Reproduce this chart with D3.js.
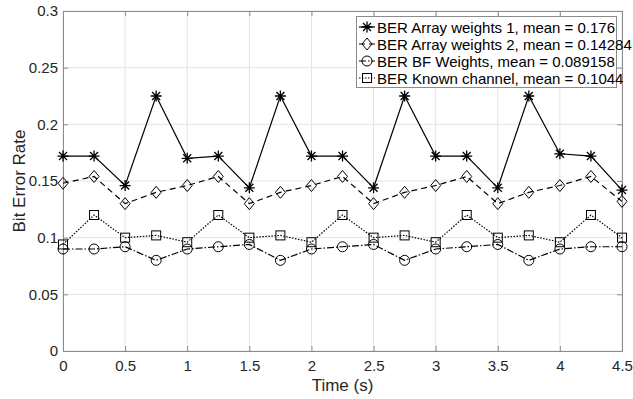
<!DOCTYPE html>
<html lang="en">
<head>
<meta charset="utf-8">
<script src="https://d3js.org/d3.v7.min.js"></script>
<style>
  body { margin: 0; background: #fff; }
  text { font-family: "Liberation Sans", Arial, sans-serif; }
</style>
</head>
<body>
<script>
// data
var times = [0, 0.25, 0.5, 0.75, 1, 1.25, 1.5, 1.75, 2, 2.25, 2.5, 2.75, 3, 3.25, 3.5, 3.75, 4, 4.25, 4.5];
var berArray1 = [0.172, 0.172, 0.146, 0.225, 0.170, 0.172, 0.144, 0.225, 0.172, 0.172, 0.144, 0.225, 0.172, 0.172, 0.144, 0.225, 0.174, 0.172, 0.142];
var berArray2 = [0.148, 0.154, 0.130, 0.140, 0.146, 0.154, 0.130, 0.140, 0.146, 0.154, 0.130, 0.140, 0.146, 0.154, 0.130, 0.140, 0.146, 0.154, 0.132];
var berBF = [0.090, 0.090, 0.092, 0.080, 0.090, 0.092, 0.094, 0.080, 0.090, 0.092, 0.094, 0.080, 0.090, 0.092, 0.094, 0.080, 0.090, 0.092, 0.092];
var berKnown = [0.094, 0.120, 0.100, 0.102, 0.096, 0.120, 0.100, 0.102, 0.096, 0.120, 0.100, 0.102, 0.096, 0.120, 0.100, 0.102, 0.096, 0.120, 0.100];
var legendLabels = ["BER Array weights 1, mean = 0.176", "BER Array weights 2, mean = 0.14284",
                    "BER BF Weights, mean = 0.089158", "BER Known channel, mean = 0.1044"];
var xTicks = [0, 0.5, 1, 1.5, 2, 2.5, 3, 3.5, 4, 4.5];
var yTicks = [0, 0.05, 0.1, 0.15, 0.2, 0.25, 0.3];

var W = 633, H = 399;
var margin = {left: 63, top: 11, right: 11, bottom: 48};

var series = [
  {values: berArray1, marker: "star", dash: null},
  {values: berArray2, marker: "diamond", dash: "6,4"},
  {values: berBF, marker: "circle", dash: "7,2,1.5,2"},
  {values: berKnown, marker: "square", dash: "1.5,1.5"}
];

var svg = d3.select("body").append("svg")
    .attr("width", W)
    .attr("height", H);

var x = d3.scaleLinear().domain([0, 4.5]).range([margin.left, W - margin.right]);
var y = d3.scaleLinear().domain([0, 0.3]).range([H - margin.bottom, margin.top]);

// grid
svg.append("g").selectAll("line").data(xTicks).enter().append("line")
    .attr("x1", function(d) { return x(d); }).attr("x2", function(d) { return x(d); })
    .attr("y1", y(0)).attr("y2", y(0.3))
    .attr("stroke", "#e3e3e3");
svg.append("g").selectAll("line").data(yTicks).enter().append("line")
    .attr("y1", function(d) { return y(d); }).attr("y2", function(d) { return y(d); })
    .attr("x1", x(0)).attr("x2", x(4.5))
    .attr("stroke", "#e3e3e3");

// axes, ticks inward on all four sides
var axisColor = "#8c8c8c";
var fmt = function(d) { return String(+d.toFixed(2)); };

var gx = svg.append("g").attr("transform", "translate(0," + y(0) + ")")
    .call(d3.axisBottom(x).tickValues(xTicks).tickSizeInner(-5).tickSizeOuter(0).tickPadding(9).tickFormat(fmt));
var gy = svg.append("g").attr("transform", "translate(" + x(0) + ",0)")
    .call(d3.axisLeft(y).tickValues(yTicks).tickSizeInner(-5).tickSizeOuter(0).tickPadding(5).tickFormat(fmt));
var gt = svg.append("g").attr("transform", "translate(0," + y(0.3) + ")")
    .call(d3.axisTop(x).tickValues(xTicks).tickSizeInner(-5).tickSizeOuter(0).tickFormat(""));
var gr = svg.append("g").attr("transform", "translate(" + x(4.5) + ",0)")
    .call(d3.axisRight(y).tickValues(yTicks).tickSizeInner(-5).tickSizeOuter(0).tickFormat(""));

[gx, gy, gt, gr].forEach(function(g) {
  g.select(".domain").attr("stroke", axisColor);
  g.selectAll(".tick line").attr("stroke", axisColor);
  g.selectAll(".tick text").attr("fill", "#262626")
      .style("font-size", "15px").style("font-family", "'Liberation Sans', Arial, sans-serif");
});

// axis labels
svg.append("text")
    .attr("x", (x(0) + x(4.5)) / 2).attr("y", 391)
    .attr("text-anchor", "middle")
    .attr("fill", "#262626")
    .style("font-size", "17px")
    .text("Time (s)");
svg.append("text")
    .attr("transform", "translate(25," + ((y(0) + y(0.3)) / 2) + ") rotate(-90)")
    .attr("text-anchor", "middle")
    .attr("fill", "#262626")
    .style("font-size", "17px")
    .text("Bit Error Rate");

// markers
function drawMarker(g, type, cx, cy) {
  if (type === "star") {
    var r = 5.5, q = 4;
    g.append("path")
      .attr("d", "M" + (cx - r) + "," + cy + "H" + (cx + r) +
                 "M" + cx + "," + (cy - r) + "V" + (cy + r) +
                 "M" + (cx - q) + "," + (cy - q) + "L" + (cx + q) + "," + (cy + q) +
                 "M" + (cx - q) + "," + (cy + q) + "L" + (cx + q) + "," + (cy - q))
      .attr("stroke", "#000").attr("stroke-width", 1.3).attr("fill", "none");
  } else if (type === "diamond") {
    g.append("path")
      .attr("d", "M" + cx + "," + (cy - 6) + "L" + (cx + 5) + "," + cy + "L" + cx + "," + (cy + 6) + "L" + (cx - 5) + "," + cy + "Z")
      .attr("stroke", "#000").attr("stroke-width", 1).attr("fill", "none");
  } else if (type === "circle") {
    g.append("circle").attr("cx", cx).attr("cy", cy).attr("r", 5)
      .attr("stroke", "#000").attr("stroke-width", 1).attr("fill", "none");
  } else {
    g.append("rect").attr("x", cx - 4.5).attr("y", cy - 4.5).attr("width", 9).attr("height", 9)
      .attr("stroke", "#000").attr("stroke-width", 1).attr("fill", "none");
  }
}

var line = d3.line()
    .x(function(d, i) { return x(times[i]); })
    .y(function(d) { return y(d); });

series.forEach(function(s) {
  var g = svg.append("g");
  g.append("path")
    .datum(s.values)
    .attr("d", line)
    .attr("fill", "none")
    .attr("stroke", "#000")
    .attr("stroke-width", 1.2)
    .attr("stroke-dasharray", s.dash);
  s.values.forEach(function(v, i) { drawMarker(g, s.marker, x(times[i]), y(v)); });
});

// legend
var lg = svg.append("g");
lg.append("rect")
    .attr("x", 356.5).attr("y", 16.5).attr("width", 260).attr("height", 71)
    .attr("fill", "#fff").attr("stroke", "#8c8c8c");
series.forEach(function(s, i) {
  var ly = 27 + i * 17;
  lg.append("line").attr("x1", 359).attr("x2", 375).attr("y1", ly).attr("y2", ly)
    .attr("stroke", "#000").attr("stroke-width", 1.2).attr("stroke-dasharray", s.dash);
  drawMarker(lg, s.marker, 367, ly);
  lg.append("text").attr("x", 377).attr("y", ly + 5.5)
    .attr("fill", "#000")
    .style("font-size", "15px")
    .text(legendLabels[i]);
});
</script>
</body>
</html>
